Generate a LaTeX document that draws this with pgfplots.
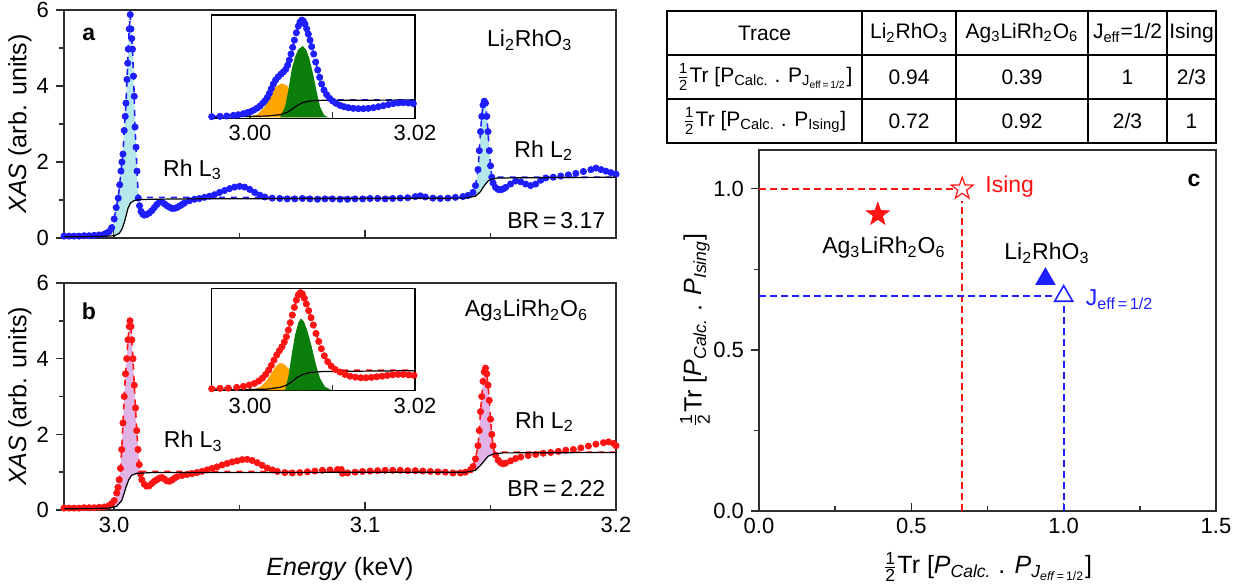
\documentclass[border=0pt]{standalone}
\usepackage{pgfplots}
\pgfplotsset{compat=1.18}
\usepackage{amsmath}
\usepackage{fontspec}
\setmainfont{Liberation Sans}

\definecolor{xblue}{HTML}{1E1EFF}
\definecolor{xred}{HTML}{FF1414}
\definecolor{cyanfill}{HTML}{B4E8EA}
\definecolor{plumfill}{HTML}{E0B2E6}
\definecolor{pkorange}{HTML}{FFA500}
\definecolor{pkgreen}{HTML}{0A7D0A}
\definecolor{frame}{HTML}{2E2E2E}

\newcommand{\half}{\ensuremath{\tfrac{\text{1}}{\text{2}}}}
\newcommand{\fs}{\fontsize{11.5}{13}\selectfont}
\newcommand{\fl}{\fontsize{12.5}{14}\selectfont}
\newcommand{\ft}{\fontsize{11}{13}\selectfont}

% filled / open five-point star
\pgfdeclareplotmark{bigstar}{%
  \pgfpathmoveto{\pgfpointpolar{90}{\pgfplotmarksize}}%
  \pgfpathlineto{\pgfpointpolar{126}{0.4\pgfplotmarksize}}%
  \pgfpathlineto{\pgfpointpolar{162}{\pgfplotmarksize}}%
  \pgfpathlineto{\pgfpointpolar{198}{0.4\pgfplotmarksize}}%
  \pgfpathlineto{\pgfpointpolar{234}{\pgfplotmarksize}}%
  \pgfpathlineto{\pgfpointpolar{270}{0.4\pgfplotmarksize}}%
  \pgfpathlineto{\pgfpointpolar{306}{\pgfplotmarksize}}%
  \pgfpathlineto{\pgfpointpolar{342}{0.4\pgfplotmarksize}}%
  \pgfpathlineto{\pgfpointpolar{18}{\pgfplotmarksize}}%
  \pgfpathlineto{\pgfpointpolar{54}{0.4\pgfplotmarksize}}%
  \pgfpathclose
  \pgfusepathqfillstroke
}

\pgfplotsset{
  base/.style={
    scale only axis,
    tick pos=left,
    xtick align=inside, ytick align=outside,
    major tick length=4pt, minor tick length=2.5pt,
    tick style={frame, line width=0.7pt},
    axis line style={frame, line width=0.9pt},
    ticklabel style={font=\ft},
    label style={font=\fl},
    /pgf/number format/assume math mode=true,
  },
  xas/.style={
    base, width=276pt, height=114pt,
    xmin=2.98, xmax=3.2, ymin=0, ymax=6,
    clip mode=individual,
    xtick={3.0,3.1,3.2}, minor xtick={3.05,3.15},
    ytick={0,2,4,6}, minor ytick={1,3,5},
    xticklabel style={/pgf/number format/.cd, fixed, fixed zerofill, precision=1},
    ylabel={\textit{XAS} (arb. units)},
    ylabel style={at={(axis description cs:-0.08,0.5)}, anchor=center},
  },
  inset/.style={
    base, width=101.65pt, height=51.65pt,
    xmin=2.99536, xmax=3.02,
    xtick={3.00,3.02}, minor xtick={3.01}, ytick=\empty,
    axis line style={black, line width=0.7pt},
    major tick length=3pt, minor tick length=3pt,
    axis background/.style={fill=white},
    xticklabel style={/pgf/number format/.cd, fixed, fixed zerofill, precision=2},
  },
  dots/.style={only marks, mark=*, mark size=1.55pt},
  dash/.style={dashed, line width=0.8pt},
  step/.style={black, line width=0.6pt},
}

\begin{document}
\begin{tikzpicture}
\useasboundingbox (0,0) rectangle (622.5pt,293pt);

% ---------------- panel a
\begin{axis}[xas, at={(32pt,174pt)}, anchor=south west, xticklabels={}]
  \addplot[draw=none, fill=cyanfill] coordinates {
    (3.000,0.5) (3.0008,0.8) (3.0016,1.05) (3.0022,1.4) (3.0027,1.76) (3.0031,2.0)
    (3.0035,2.21) (3.0040,2.83) (3.0044,3.2) (3.0047,3.55) (3.0051,4.17) (3.0054,4.6)
    (3.0056,4.97) (3.0060,5.5) (3.0064,5.88) (3.0067,5.5) (3.0070,5.25) (3.0073,4.97)
    (3.0077,4.26) (3.0080,3.73) (3.0083,2.92) (3.0087,2.39) (3.0091,1.76) (3.0096,1.07)
    (3.0096,1.0) (3.008,0.99) (3.0065,0.92) (3.0055,0.78)
    (3.0048,0.6) (3.004,0.4) (3.003,0.22) (3.002,0.12) (3.000,0.06)} -- cycle;
  \addplot[draw=none, fill=cyanfill] coordinates {
    (3.143,1.2) (3.144,1.38) (3.145,1.8) (3.1455,2.3) (3.146,2.8) (3.1465,3.2)
    (3.147,3.5) (3.1475,3.6) (3.148,3.55) (3.1485,3.2) (3.149,2.8) (3.1495,2.3)
    (3.150,1.9) (3.1505,1.6)
    (3.1505,1.55) (3.149,1.5) (3.148,1.42) (3.147,1.33) (3.146,1.22) (3.144,1.1)
    (3.143,1.08)} -- cycle;
  \addplot[dots, xblue] coordinates {
    (2.980,0.05) (2.982,0.05) (2.984,0.05) (2.986,0.05) (2.988,0.06) (2.990,0.06)
    (2.992,0.07) (2.994,0.08) (2.996,0.10) (2.997,0.13) (2.998,0.17) (2.999,0.27)
    (3.000,0.5) (3.0008,0.8) (3.0016,1.05) (3.0022,1.4) (3.0027,1.76) (3.0031,2.0)
    (3.0035,2.21) (3.0040,2.83) (3.0044,3.2) (3.0047,3.55) (3.0051,4.17) (3.0054,4.6)
    (3.0056,4.97) (3.0060,5.5) (3.0064,5.88) (3.0067,5.5) (3.0070,5.25) (3.0073,4.97)
    (3.0077,4.26) (3.0080,3.73) (3.0083,2.92) (3.0087,2.39) (3.0091,1.76) (3.0096,1.05)
    (3.0101,0.85) (3.0107,0.7) (3.0114,0.63) (3.0120,0.6)
    (3.013,0.62) (3.014,0.66) (3.015,0.72) (3.016,0.8) (3.017,0.88) (3.018,0.94)
    (3.019,0.95) (3.020,0.9) (3.021,0.85) (3.022,0.81) (3.023,0.78) (3.024,0.78)
    (3.025,0.8) (3.026,0.84) (3.027,0.88) (3.028,0.92) (3.030,0.98) (3.032,1.02)
    (3.034,1.04) (3.036,1.07) (3.038,1.1) (3.040,1.14) (3.042,1.2) (3.044,1.25)
    (3.046,1.3) (3.048,1.34) (3.050,1.36) (3.052,1.34) (3.054,1.28) (3.056,1.2)
    (3.058,1.13) (3.060,1.08) (3.063,1.05) (3.066,1.04) (3.069,1.03) (3.072,1.03)
    (3.075,1.04) (3.078,1.03) (3.081,1.02) (3.084,1.03) (3.087,1.03) (3.090,1.02)
    (3.093,1.02) (3.096,1.03) (3.099,1.03) (3.102,1.04) (3.105,1.04) (3.108,1.03)
    (3.111,1.04) (3.114,1.05) (3.117,1.06) (3.120,1.09) (3.122,1.11) (3.124,1.08)
    (3.127,1.05) (3.130,1.04) (3.133,1.05) (3.136,1.07) (3.139,1.09) (3.141,1.12)
    (3.143,1.2) (3.144,1.38) (3.145,1.8) (3.1455,2.3) (3.146,2.8) (3.1465,3.2)
    (3.147,3.5) (3.1475,3.6) (3.148,3.55) (3.1485,3.2) (3.149,2.8) (3.1495,2.3)
    (3.150,1.9) (3.1505,1.6) (3.151,1.45) (3.152,1.33) (3.153,1.28) (3.154,1.27)
    (3.155,1.29) (3.156,1.33) (3.158,1.42) (3.160,1.5) (3.162,1.48) (3.164,1.42)
    (3.166,1.38) (3.168,1.42) (3.170,1.52) (3.172,1.58) (3.175,1.6) (3.178,1.63)
    (3.181,1.66) (3.184,1.7) (3.187,1.75) (3.190,1.8) (3.192,1.84) (3.194,1.8)
    (3.196,1.76) (3.198,1.72) (3.200,1.68)};
  \addplot[dash, xblue] coordinates {
    (2.980,0.05) (2.996,0.10) (2.999,0.27) (3.000,0.5) (3.0008,0.8) (3.0016,1.05)
    (3.0022,1.4) (3.0027,1.76) (3.0031,2.0) (3.0035,2.21) (3.0040,2.83) (3.0044,3.2)
    (3.0047,3.55) (3.0051,4.17) (3.0054,4.6) (3.0056,4.97) (3.0060,5.5) (3.0064,5.88)
    (3.0067,5.5) (3.0070,5.25) (3.0073,4.97) (3.0077,4.26) (3.0080,3.73) (3.0083,2.92)
    (3.0087,2.39) (3.0091,1.76) (3.0096,1.07) (3.142,1.07) (3.143,1.2) (3.144,1.38)
    (3.145,1.8) (3.1455,2.3) (3.146,2.8) (3.1465,3.2) (3.147,3.5) (3.1475,3.6)
    (3.148,3.55) (3.1485,3.2) (3.149,2.8) (3.1495,2.3) (3.150,1.9) (3.1505,1.6)
    (3.200,1.6)};
  \addplot[step] coordinates {
    (2.980,0.03) (2.995,0.04) (3.000,0.06) (3.002,0.12) (3.003,0.22) (3.004,0.4)
    (3.0048,0.6) (3.0055,0.78) (3.0065,0.92) (3.008,0.99) (3.010,1.01) (3.015,1.02)
    (3.030,1.03) (3.140,1.05) (3.144,1.1) (3.146,1.22) (3.147,1.33) (3.148,1.42)
    (3.149,1.5) (3.1505,1.55) (3.153,1.58) (3.200,1.6)};
  \node[font=\fs\bfseries] at (axis cs:2.9899,5.35) {a};
  \node[font=\fs] at (axis cs:3.1656,5.2) {Li\textsubscript{2}RhO\textsubscript{3}};
  \node[font=\fs] at (axis cs:3.0312,1.8) {Rh L\textsubscript{3}};
  \node[font=\fs] at (axis cs:3.1712,2.3) {Rh L\textsubscript{2}};
  \node[font=\fs, anchor=east] at (axis cs:3.1985,0.46) {BR\,=\,3.17};
\end{axis}

% inset a
\begin{axis}[inset, at={(105.85pt,233.85pt)}, anchor=south west, ymin=-0.05, ymax=6.28]
  \addplot[draw=none, fill=pkorange] coordinates {
    (2.99960,0) (3.00081,0.15) (3.00182,0.66) (3.00243,1.28) (3.00303,1.85)
    (3.00384,2.09) (3.00445,1.97) (3.00505,1.58) (3.00566,1.07) (3.00627,0.66)
    (3.00687,0.36) (3.00768,0.11) (3.00849,0)} \closedcycle;
  \addplot[draw=none, fill=pkgreen] coordinates {
    (3.00364,0) (3.00425,0.66) (3.00465,1.68) (3.00505,2.91) (3.00546,3.72)
    (3.00586,4.17) (3.00639,4.38) (3.00679,4.17) (3.00719,3.62) (3.00768,2.60)
    (3.00808,1.58) (3.00849,0.66) (3.00897,0.15) (3.00950,0)} \closedcycle;
  \addplot[dots, xblue] coordinates {
    (2.99536,0.05) (2.99637,0.07) (2.99718,0.09) (2.99799,0.13) (2.99859,0.17)
    (2.99920,0.23) (2.99968,0.30) (3.00009,0.36) (3.00049,0.46) (3.00089,0.58)
    (3.00122,0.70) (3.00154,0.87) (3.00182,1.03) (3.00210,1.23) (3.00235,1.48)
    (3.00259,1.77) (3.00283,2.05) (3.00311,2.30) (3.00344,2.50) (3.00376,2.66)
    (3.00404,2.79) (3.00433,2.95) (3.00457,3.21) (3.00477,3.52) (3.00497,3.89)
    (3.00517,4.30) (3.00538,4.74) (3.00562,5.19) (3.00586,5.60) (3.00606,5.85)
    (3.00627,5.97) (3.00647,5.91) (3.00667,5.72) (3.00687,5.44) (3.00707,5.11)
    (3.00728,4.74) (3.00748,4.34) (3.00772,3.89) (3.00796,3.40) (3.00821,2.91)
    (3.00845,2.46) (3.00869,2.05) (3.00897,1.68) (3.00929,1.40) (3.00965,1.17)
    (3.01002,1.01) (3.01042,0.87) (3.01091,0.74) (3.01139,0.66) (3.01192,0.60)
    (3.01252,0.56) (3.01313,0.54) (3.01374,0.54) (3.01434,0.56) (3.01495,0.60)
    (3.01556,0.66) (3.01616,0.72) (3.01677,0.79) (3.01737,0.85) (3.01798,0.89)
    (3.01858,0.91) (3.01919,0.89) (3.01980,0.85)};
  \addplot[dash, xblue] coordinates {
    (2.99536,0.05) (2.99920,0.23) (3.00049,0.46) (3.00154,0.87) (3.00235,1.48)
    (3.00283,2.05) (3.00344,2.50) (3.00404,2.79) (3.00457,3.21) (3.00497,3.89)
    (3.00538,4.74) (3.00586,5.60) (3.00627,5.97) (3.00667,5.72) (3.00707,5.11)
    (3.00748,4.34) (3.00796,3.40) (3.00845,2.46) (3.00897,1.68) (3.00965,1.17)
    (3.01000,1.07) (3.02000,1.07)};
  \addplot[step] coordinates {
    (2.99536,0.01) (3.00202,0.09) (3.00364,0.17) (3.00453,0.32) (3.00517,0.54)
    (3.00574,0.74) (3.00639,0.91) (3.00719,1.01) (3.00849,1.05) (3.02000,1.07)};
\end{axis}

% ---------------- panel b
\begin{axis}[xas, at={(32pt,38pt)}, anchor=south west, height=113.5pt,
  xlabel={\textit{Energy} (keV)},
  xlabel style={at={(axis description cs:0.5,-0.262)}, anchor=center}]
  \addplot[draw=none, fill=plumfill] coordinates {
    (3.000,0.25) (3.001,0.45) (3.002,0.8) (3.0025,1.1) (3.003,1.6) (3.0035,2.3)
    (3.004,3.0) (3.0045,3.6) (3.005,4.0) (3.0055,4.5) (3.006,4.85) (3.0063,5.0)
    (3.0067,4.85) (3.007,4.5) (3.0075,4.0) (3.008,3.3) (3.0085,2.7) (3.009,2.1)
    (3.0095,1.6) (3.010,1.2) (3.0105,1.02)
    (3.0105,0.98) (3.009,0.97) (3.007,0.92) (3.0058,0.8) (3.0048,0.62)
    (3.004,0.45) (3.003,0.25) (3.001,0.1) (3.000,0.08)} -- cycle;
  \addplot[draw=none, fill=plumfill] coordinates {
    (3.143,1.15) (3.144,1.35) (3.145,1.7) (3.1455,2.1) (3.146,2.6) (3.1465,3.0)
    (3.147,3.4) (3.1475,3.65) (3.148,3.75) (3.1485,3.6) (3.149,3.3) (3.1495,2.9)
    (3.150,2.4) (3.1505,2.0) (3.151,1.7) (3.1515,1.53)
    (3.1515,1.49) (3.151,1.48) (3.149,1.42) (3.1475,1.3) (3.146,1.18)
    (3.144,1.05) (3.143,1.02)} -- cycle;
  \addplot[dots, xred] coordinates {
    (2.980,0.05) (2.982,0.05) (2.984,0.05) (2.986,0.05) (2.988,0.06) (2.990,0.06)
    (2.992,0.06) (2.994,0.07) (2.996,0.08) (2.998,0.12) (2.999,0.17) (3.000,0.25)
    (3.001,0.45) (3.0015,0.6) (3.002,0.8) (3.0025,1.1) (3.003,1.6) (3.0035,2.3)
    (3.004,3.0) (3.0045,3.6) (3.005,4.0) (3.0055,4.5) (3.006,4.85) (3.0063,5.0)
    (3.0067,4.85) (3.007,4.5) (3.0075,4.0) (3.008,3.3) (3.0085,2.7) (3.009,2.1)
    (3.0095,1.6) (3.010,1.2) (3.0105,0.95) (3.011,0.8) (3.012,0.68) (3.013,0.63)
    (3.014,0.64) (3.015,0.7) (3.016,0.76) (3.017,0.8) (3.018,0.84) (3.019,0.86)
    (3.020,0.82) (3.021,0.77) (3.022,0.76) (3.023,0.79) (3.024,0.84) (3.025,0.88)
    (3.027,0.91) (3.029,0.94) (3.031,0.96) (3.033,0.99) (3.035,1.02) (3.037,1.06)
    (3.039,1.1) (3.041,1.14) (3.043,1.19) (3.045,1.23) (3.047,1.27) (3.049,1.3)
    (3.051,1.33) (3.053,1.34) (3.055,1.31) (3.057,1.25) (3.059,1.18) (3.061,1.11)
    (3.063,1.06) (3.065,1.02) (3.068,0.99) (3.071,0.98) (3.074,0.99) (3.077,1.01)
    (3.080,1.03) (3.083,1.05) (3.086,1.06) (3.089,1.07) (3.0905,1.07) (3.091,0.97)
    (3.093,0.98) (3.096,1.0) (3.099,1.02) (3.102,1.03) (3.105,1.04) (3.108,1.05)
    (3.111,1.05) (3.114,1.05) (3.117,1.04) (3.120,1.04) (3.123,1.03) (3.126,1.02)
    (3.129,1.01) (3.132,1.0) (3.135,0.98) (3.138,0.98) (3.140,1.0) (3.142,1.06)
    (3.143,1.15) (3.144,1.35) (3.145,1.7) (3.1455,2.1) (3.146,2.6) (3.1465,3.0)
    (3.147,3.4) (3.1475,3.65) (3.148,3.75) (3.1485,3.6) (3.149,3.3) (3.1495,2.9)
    (3.150,2.4) (3.1505,2.0) (3.151,1.7) (3.152,1.45) (3.153,1.32) (3.154,1.25)
    (3.155,1.22) (3.156,1.24) (3.158,1.3) (3.160,1.36) (3.162,1.4) (3.165,1.44)
    (3.168,1.47) (3.171,1.5) (3.174,1.52) (3.177,1.55) (3.180,1.58) (3.183,1.6)
    (3.186,1.64) (3.189,1.69) (3.192,1.74) (3.195,1.78) (3.197,1.8) (3.199,1.76)
    (3.200,1.7)};
  \addplot[dash, xred] coordinates {
    (2.980,0.05) (2.996,0.08) (2.999,0.17) (3.000,0.25) (3.001,0.45) (3.002,0.8)
    (3.0025,1.1) (3.003,1.6) (3.0035,2.3) (3.004,3.0) (3.0045,3.6) (3.005,4.0)
    (3.0055,4.5) (3.006,4.85) (3.0063,5.0) (3.0067,4.85) (3.007,4.5) (3.0075,4.0)
    (3.008,3.3) (3.0085,2.7) (3.009,2.1) (3.0095,1.6) (3.010,1.2) (3.0105,1.02)
    (3.1425,1.02) (3.143,1.15) (3.144,1.35) (3.145,1.7) (3.1455,2.1) (3.146,2.6)
    (3.1465,3.0) (3.147,3.4) (3.1475,3.65) (3.148,3.75) (3.1485,3.6) (3.149,3.3)
    (3.1495,2.9) (3.150,2.4) (3.1505,2.0) (3.151,1.7) (3.1515,1.53) (3.200,1.53)};
  \addplot[step] coordinates {
    (2.980,0.03) (2.998,0.05) (3.001,0.1) (3.003,0.25) (3.004,0.45) (3.0048,0.62)
    (3.0058,0.8) (3.007,0.92) (3.009,0.97) (3.015,0.99) (3.140,1.0) (3.144,1.05)
    (3.146,1.18) (3.1475,1.3) (3.149,1.42) (3.151,1.48) (3.155,1.51) (3.200,1.52)};
  \node[font=\fs\bfseries] at (axis cs:2.9899,5.26) {b};
  \node[font=\fs] at (axis cs:3.1643,5.26) {Ag\textsubscript{3}LiRh\textsubscript{2}O\textsubscript{6}};
  \node[font=\fs] at (axis cs:3.0315,1.81) {Rh L\textsubscript{3}};
  \node[font=\fs] at (axis cs:3.1715,2.33) {Rh L\textsubscript{2}};
  \node[font=\fs, anchor=east] at (axis cs:3.1985,0.58) {BR\,=\,2.22};
\end{axis}

% inset b
\begin{axis}[inset, at={(105.85pt,97.65pt)}, anchor=south west, height=51.2pt, ymin=-0.03, ymax=5.19]
  \addplot[draw=none, fill=pkorange] coordinates {
    (3.00000,0) (3.00122,0.15) (3.00202,0.48) (3.00263,0.88) (3.00315,1.22)
    (3.00364,1.38) (3.00412,1.33) (3.00465,1.11) (3.00526,0.77) (3.00586,0.43)
    (3.00647,0.17) (3.00728,0)} \closedcycle;
  \addplot[draw=none, fill=pkgreen] coordinates {
    (3.00424,0) (3.00465,0.68) (3.00505,1.79) (3.00546,2.81) (3.00586,3.44)
    (3.00618,3.66) (3.00655,3.49) (3.00695,3.03) (3.00748,2.21) (3.00800,1.28)
    (3.00849,0.60) (3.00909,0.17) (3.00990,0)} \closedcycle;
  \addplot[dots, xred] coordinates {
    (2.99536,0.07) (2.99637,0.09) (2.99738,0.10) (2.99839,0.14) (2.99920,0.19)
    (2.99992,0.26) (3.00053,0.34) (3.00106,0.46) (3.00150,0.61) (3.00190,0.80)
    (3.00227,1.02) (3.00259,1.26) (3.00291,1.53) (3.00324,1.79) (3.00356,2.01)
    (3.00388,2.21) (3.00416,2.45) (3.00441,2.72) (3.00465,3.06) (3.00489,3.44)
    (3.00513,3.83) (3.00538,4.22) (3.00562,4.59) (3.00586,4.85) (3.00610,4.97)
    (3.00635,4.90) (3.00659,4.68) (3.00683,4.39) (3.00711,4.05) (3.00740,3.69)
    (3.00768,3.32) (3.00800,2.89) (3.00833,2.48) (3.00865,2.11) (3.00901,1.75)
    (3.00942,1.45) (3.00986,1.22) (3.01034,1.05) (3.01091,0.92) (3.01152,0.80)
    (3.01212,0.71) (3.01277,0.66) (3.01342,0.63) (3.01406,0.63) (3.01471,0.65)
    (3.01535,0.68) (3.01600,0.71) (3.01665,0.75) (3.01729,0.78) (3.01794,0.80)
    (3.01858,0.80) (3.01923,0.78) (3.01988,0.75)};
  \addplot[dash, xred] coordinates {
    (2.99536,0.07) (2.99920,0.19) (3.00053,0.34) (3.00150,0.61) (3.00227,1.02)
    (3.00291,1.53) (3.00356,2.01) (3.00416,2.45) (3.00465,3.06) (3.00513,3.83)
    (3.00562,4.59) (3.00610,4.97) (3.00659,4.68) (3.00711,4.05) (3.00768,3.32)
    (3.00833,2.48) (3.00901,1.75) (3.00986,1.22) (3.01034,1.02) (3.02000,1.02)};
  \addplot[step] coordinates {
    (2.99536,0) (3.00202,0.05) (3.00364,0.14) (3.00453,0.27) (3.00517,0.46)
    (3.00574,0.65) (3.00639,0.80) (3.00728,0.90) (3.00889,0.95) (3.02000,0.99)};
\end{axis}

% ---------------- panel c
\begin{axis}[base, at={(379.5pt,37.5pt)}, anchor=south west,
  width=228.5pt, height=180.5pt,
  xmin=0, xmax=1.5, ymin=0, ymax=1.12,
  xtick={0,0.5,1,1.5}, minor xtick={0.25,0.75,1.25},
  ytick={0,0.5,1}, minor ytick={0.25,0.75},
  ticklabel style={/pgf/number format/.cd, fixed, fixed zerofill, precision=1},
  xlabel={\half Tr [\textit{P}\textsubscript{\textit{Calc.}} . \textit{P}\textsubscript{\textit{J}\textsubscript{\textit{eff}\,=\,1/2}}]},
  xlabel style={at={(axis description cs:0.5,-0.155)}, anchor=center},
  ylabel={\half Tr [\textit{P}\textsubscript{\textit{Calc.}} . \textit{P}\textsubscript{\textit{Ising}}]},
  ylabel style={at={(axis description cs:-0.14,0.5)}, anchor=center},
  clip=false]
  \addplot[xred, line width=1pt, dash pattern=on 3.5pt off 2pt] coordinates {(0,1) (0.643,1)};
  \addplot[xred, line width=1pt, dash pattern=on 3.5pt off 2pt] coordinates {(0.667,0) (0.667,0.962)};
  \addplot[xblue, line width=1pt, dash pattern=on 3.5pt off 2pt] coordinates {(0,0.667) (0.962,0.667)};
  \addplot[xblue, line width=1pt, dash pattern=on 3.5pt off 2pt] coordinates {(1,0) (1,0.636)};
  \addplot[only marks, mark=bigstar, mark size=5.8pt, xred, mark options={fill=white, line width=0.6pt}] coordinates {(0.667,1)};
  \addplot[only marks, mark=bigstar, mark size=6pt, xred, mark options={fill=xred}] coordinates {(0.39,0.92)};
  \addplot[only marks, mark=triangle*, mark size=5.5pt, xblue, mark options={fill=xblue}] coordinates {(0.94,0.72)};
  \addplot[only marks, mark=triangle, mark size=5.2pt, xblue, mark options={fill=white, line width=0.8pt}] coordinates {(1,0.667)};
  \node[font=\fs, xred, anchor=west] at (axis cs:0.72,1.008) {Ising};
  \node[font=\fs] at (axis cs:0.41,0.816) {Ag\textsubscript{3}LiRh\textsubscript{2}O\textsubscript{6}};
  \node[font=\fs] at (axis cs:0.945,0.80) {Li\textsubscript{2}RhO\textsubscript{3}};
  \node[font=\fs, xblue, anchor=west] at (axis cs:1.05,0.655) {J\textsubscript{eff\,=\,1/2}};
  \node[font=\fs\bfseries] at (axis cs:1.428,1.026) {c};
\end{axis}

% ---------------- table
\begin{scope}[font=\fontsize{10.5}{12}\selectfont]
  \draw[line width=0.9pt] (333.5pt,221.5pt) rectangle (608pt,287.5pt);
  \draw[line width=0.8pt] (333.5pt,265.5pt) -- (608pt,265.5pt);
  \draw[line width=0.8pt] (333.5pt,243.5pt) -- (608pt,243.5pt);
  \foreach \cx in {431,478,544,583.5}
    \draw[line width=0.8pt] (\cx pt,221.5pt) -- (\cx pt,287.5pt);
  \node at (382.25pt,276.5pt) {Trace};
  \node at (454.5pt,276.5pt) {Li\textsubscript{2}RhO\textsubscript{3}};
  \node at (511pt,276.5pt) {Ag\textsubscript{3}LiRh\textsubscript{2}O\textsubscript{6}};
  \node at (563.75pt,276.5pt) {J\textsubscript{eff}=1/2};
  \node at (595.75pt,276.5pt) {Ising};
  \node at (382.25pt,254.5pt) {\half Tr [P\textsubscript{Calc.} . P\textsubscript{J\textsubscript{eff\,=\,1/2}}]};
  \node at (454.5pt,254.5pt) {0.94};
  \node at (511pt,254.5pt) {0.39};
  \node at (563.75pt,254.5pt) {1};
  \node at (595.75pt,254.5pt) {2/3};
  \node at (382.25pt,232.5pt) {\half Tr [P\textsubscript{Calc.} . P\textsubscript{Ising}]};
  \node at (454.5pt,232.5pt) {0.72};
  \node at (511pt,232.5pt) {0.92};
  \node at (563.75pt,232.5pt) {2/3};
  \node at (595.75pt,232.5pt) {1};
\end{scope}
\end{tikzpicture}
\end{document}
